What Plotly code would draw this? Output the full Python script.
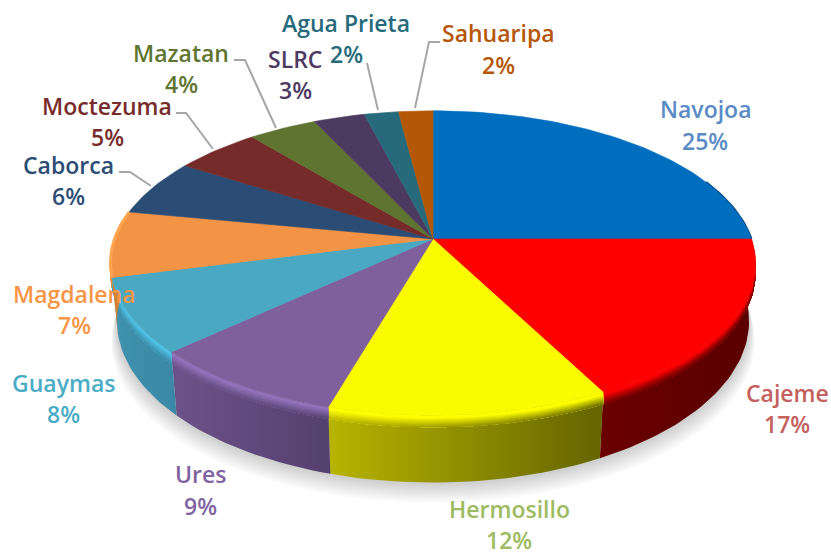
import math
import plotly.graph_objects as go

# ---- data ----
categories = ["Navojoa", "Cajeme", "Hermosillo", "Ures", "Guaymas", "Magdalena",
              "Caborca", "Moctezuma", "Mazatan", "SLRC", "Agua Prieta", "Sahuaripa"]
values = [25.0, 17.4, 12.1, 8.6, 7.9, 7.0, 6.0, 5.0, 4.0, 3.0, 2.0, 2.0]

# ---- styling ----
top_colors = ["#006EBE", "#FF0000", "#FAFA00", "#7F609C", "#4AA8C2", "#F29345",
              "#2B4C74", "#752B2A", "#5F7430", "#4C3A60", "#276A7B", "#B45808"]
label_colors = ["#5B8BC5", "#C4605D", "#9DBB61", "#8064A2", "#4BACC6", "#F79646",
                "#2C4D75", "#772C2A", "#5F7530", "#4D3B62", "#276A7C", "#B65708"]
side_left = ["#06365E", "#6A0000", "#B8B400", "#6C5289", "#4092AE", "#D9802F",
             "#1D3550", "#521E1D", "#41501F", "#352942", "#1B4955", "#7D3D05"]
side_right = ["#06365E", "#5A0000", "#646400", "#54406E", "#3A88A5", "#D9802F",
              "#1D3550", "#521E1D", "#41501F", "#352942", "#1B4955", "#7D3D05"]
bevel_colors = ["#0A70C0", "#FF0000", "#FFFF00", "#9272BA", "#4FC2E4", "#FFA550",
                "#2B4C74", "#752B2A", "#5F7430", "#4C3A60", "#276A7B", "#B45808"]
label_pos = {  # x, y of name, y of percent
    "Navojoa": (705, 109, 141), "Cajeme": (787, 393, 424), "Hermosillo": (509, 509, 540),
    "Ures": (200, 474, 506), "Guaymas": (63.5, 383, 414), "Magdalena": (74, 294, 325),
    "Caborca": (68.5, 165, 196), "Moctezuma": (107, 106, 137), "Mazatan": (181, 53, 84),
    "SLRC": (295, 59, 90), "Agua Prieta": (346, 23, 54), "Sahuaripa": (498, 33, 65),
}
leaders = [
    [(119, 172), (130, 172), (151, 186)],
    [(176, 113), (186, 113), (213, 149)],
    [(234, 60), (245, 60), (276, 128)],
    [(367, 63), (378, 110)],
    [(440, 42), (429, 42), (415, 108)],
]

CX, CY = 433, 239
D, F, K = 6.33, 2016.0, 0.466
DEPTH = 0.178
BEVEL = 0.032


def project(theta, radius=1.0, drop=0.0, shrink=0.0):
    """Perspective view of a point on the disc; theta clockwise from 12 o'clock."""
    X, Y = radius * math.sin(theta), -radius * math.cos(theta)
    s = F / (D - Y)
    return (CX + X * s * (1 - shrink), CY + Y * K * s + drop * s)


def arc(a, b, n, **kw):
    return [project(a + (b - a) * i / n, **kw) for i in range(n + 1)]


def blend(c1, c2, t):
    p = [int(c1[i:i + 2], 16) for i in (1, 3, 5)]
    q = [int(c2[i:i + 2], 16) for i in (1, 3, 5)]
    return "#%02X%02X%02X" % tuple(round(u + (v - u) * t) for u, v in zip(p, q))


def poly(points, **kw):
    xs, ys = zip(*points)
    return go.Scatter(x=list(xs) + [xs[0]], y=list(ys) + [ys[0]], mode="lines",
                      fill="toself", hoverinfo="skip", showlegend=False, **kw)


fig = go.Figure()

# soft drop shadow below the pie
for k in range(12, 0, -1):
    off, grow = k * 1.7, k * 0.0015
    pts = [(CX + (x - CX) * (1 + grow), y + off)
           for x, y in arc(0, 2 * math.pi, 180, drop=DEPTH, shrink=0.02)]
    fig.add_trace(poly(pts, line=dict(width=0), fillcolor="rgba(90,90,90,0.024)"))

total = sum(values)
edges = [0.0]
for v in values:
    edges.append(edges[-1] + v / total * 2 * math.pi)

# side wall, with a bevel of stacked bands along the rim: each band runs down to the
# bevel's lower edge and the next, darker one is painted over it, so no seams show
front = [i for i in range(len(values)) if 1 <= i <= 5]
for i in front:
    a, b = edges[i], edges[i + 1]
    n = max(8, int((b - a) * 40))
    top_rim = arc(a, b, n)
    low_rim = arc(b, a, n, drop=DEPTH, shrink=0.02)
    fig.add_trace(poly(top_rim + low_rim, line=dict(width=0),
                       fillgradient=dict(type="horizontal",
                                         colorscale=[[0, side_left[i]], [1, side_right[i]]])))
    for j in range(12):
        t0 = j / 12
        t = max(0.0, (t0 - .15) / .85)
        upper = arc(a, b, n, drop=BEVEL * t0)
        lower = arc(b, a, n, drop=BEVEL)
        fig.add_trace(poly(upper + lower, line=dict(width=0),
                           fillgradient=dict(type="horizontal", colorscale=[
                               [0, blend(bevel_colors[i], side_left[i], t)],
                               [1, blend(bevel_colors[i], side_right[i], t)]])))

# dark rim shading on the right of the first slice
rim = arc(edges[0] + 1.15, edges[1], 20)
fig.add_trace(go.Scatter(x=[p[0] for p in rim], y=[p[1] for p in rim], mode="lines",
                         line=dict(color="#123F6B", width=2), hoverinfo="skip", showlegend=False))

# top faces
for i, name in enumerate(categories):
    a, b = edges[i], edges[i + 1]
    n = max(6, int((b - a) * 40))
    pts = [(CX, CY)] + arc(a, b, n)
    fig.add_trace(poly(pts, line=dict(width=0.6, color=top_colors[i]), fillcolor=top_colors[i], name=name))

# bright rim on the left-hand slice
rim = arc(edges[5], edges[6], 14)
fig.add_trace(go.Scatter(x=[p[0] for p in rim], y=[p[1] for p in rim], mode="lines",
                         line=dict(color="#FFA550", width=3), hoverinfo="skip", showlegend=False))

# leader lines
for pts in leaders:
    fig.add_trace(go.Scatter(x=[p[0] for p in pts], y=[p[1] for p in pts], mode="lines",
                             line=dict(color="#A6A6A6", width=2), hoverinfo="skip", showlegend=False))

# labels
for i, name in enumerate(categories):
    x, y1, y2 = label_pos[name]
    pct = f"{round(values[i] / total * 100)}%"
    for txt, y in ((name, y1), (pct, y2)):
        fig.add_annotation(x=x, y=y, text=txt, showarrow=False, xanchor="center", yanchor="middle",
                           font=dict(family="Open Sans", size=23, weight=600, color=label_colors[i]))

fig.update_layout(
    width=831, height=556, margin=dict(l=0, r=0, t=0, b=0),
    paper_bgcolor="white", plot_bgcolor="white", showlegend=False,
    xaxis=dict(range=[0, 831], visible=False, fixedrange=True),
    yaxis=dict(range=[556, 0], visible=False, fixedrange=True),
)
fig.write_html("out.html", config=dict(displayModeBar=False),
               post_script="document.body.style.margin='0';")
